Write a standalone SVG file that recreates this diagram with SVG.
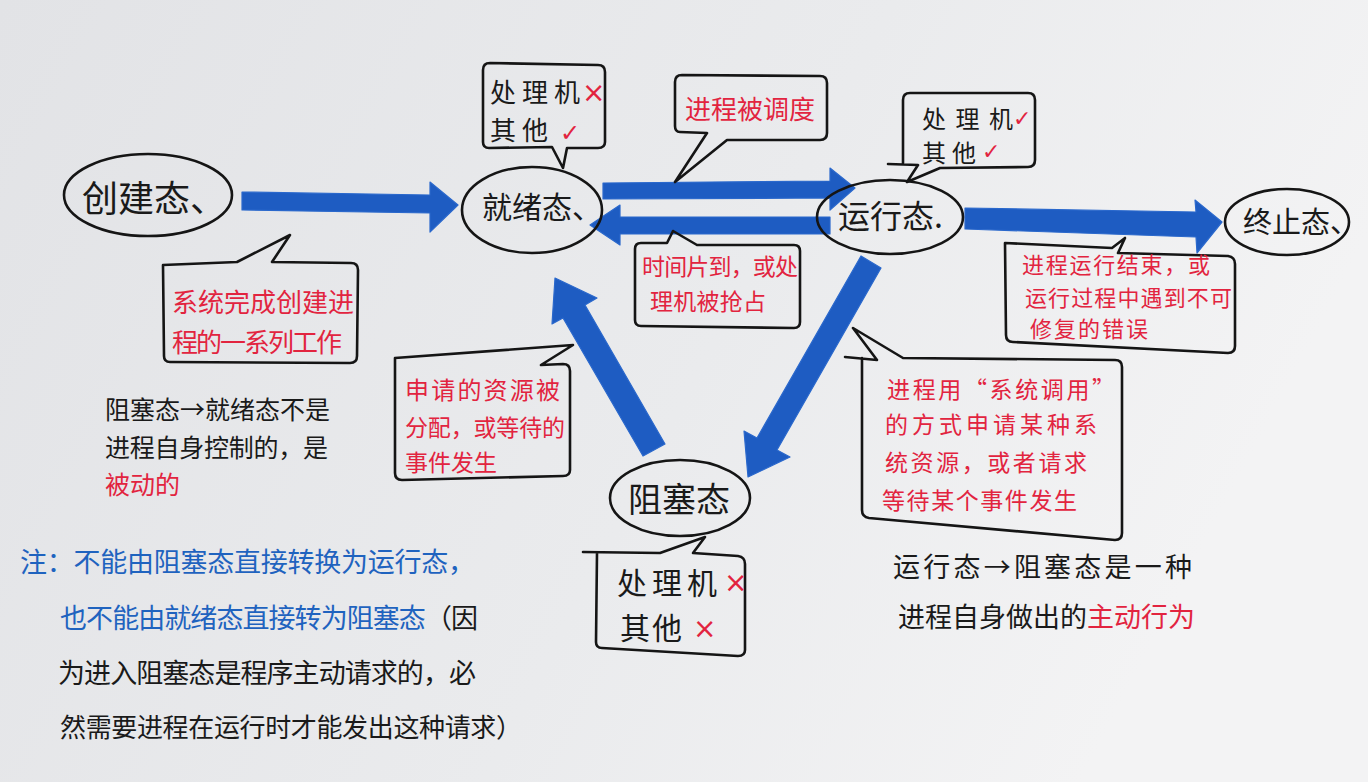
<svg xmlns="http://www.w3.org/2000/svg" width="1368" height="782" viewBox="0 0 1368 782">
<defs>
<linearGradient id="paper" x1="0" y1="0" x2="1" y2="0.3">
<stop offset="0" stop-color="#e2e3e6"/>
<stop offset="0.6" stop-color="#eaebed"/>
<stop offset="1" stop-color="#f3f3f4"/>
</linearGradient>
<style>
.node{fill:none;stroke:#151515;stroke-width:2.6}
.bubble{fill:none;stroke:#151515;stroke-width:2.6;stroke-linejoin:round;stroke-linecap:round}
.arrow{fill:#1e5cc2;stroke:#2a68cc;stroke-width:1.2;stroke-linejoin:round}
text{font-family:"Noto Sans CJK SC","Noto Sans CJK TC",sans-serif}
.k{fill:#1a1a1a}
.r{fill:#e2243f}
.b{fill:#1f63bf}
.mark{font-family:"DejaVu Sans",sans-serif;fill:#e2243f}
</style>
</defs>
<rect width="1368" height="782" fill="url(#paper)"/>

<g id="connectors">
<polygon class="arrow" points="242,192 430,195 430,182 458,205 430,232 430,213 242,210"/>
<polygon class="arrow" points="603,183 830,181 830,168 855,188 830,210 830,198 603,199"/>
<polygon class="arrow" points="830,217 620,217 620,205 590,225 620,245 620,234 830,234"/>
<polygon class="arrow" points="965,208 1196,212 1195,200 1222,222 1197,253 1196,237 965,229"/>
<polygon class="arrow" points="861,256 881,268 777,450 790,457 748,477 744,431 757,438"/>
<polygon class="arrow" points="643,456 665,444 585,305 597,298 555,278 552,324 563,318"/>
</g>

<g id="create">
<ellipse class="node" cx="148" cy="195" rx="84" ry="41"/>
<text class="k" x="82" y="212" font-size="36">创建态、</text>
</g>
<g id="create-note">
<path class="bubble" d="M163,265 L237,262 L290,235 L272,262 L351,263 Q358,263 358,270 L357,356 Q357,363 350,363 L170,362 Q164,362 164,356 Z"/>
<text class="r" x="172" y="312" font-size="26" textLength="182">系统完成创建进</text>
<text class="r" x="172" y="352" font-size="26" textLength="170">程的一系列工作</text>
</g>

<g id="ready">
<ellipse class="node" cx="532" cy="210" rx="70" ry="43"/>
<text class="k" x="482" y="218" font-size="30">就绪态、</text>
</g>
<g id="ready-note">
<path class="bubble" d="M490,63 L598,65 Q605,65 605,72 L605,142 Q605,148 598,148 L567,148 L563,168 L552,147 L489,148 Q483,148 483,142 L483,70 Q483,63 490,63 Z"/>
<text class="k" x="490" y="102" font-size="26" textLength="90">处理机</text>
<text class="mark" x="582" y="102" font-size="28">×</text>
<text class="k" x="490" y="140" font-size="26" textLength="58">其他</text>
<text class="mark" x="560" y="141" font-size="24">✓</text>
</g>

<g id="dispatch-note">
<path class="bubble" d="M682,75 L820,76 Q827,76 827,83 L827,133 Q827,140 820,140 L727,140 L675,182 L707,133 L680,132 Q675,132 675,126 L675,82 Q675,75 682,75 Z"/>
<text class="r" x="685" y="119" font-size="26" textLength="130">进程被调度</text>
</g>

<g id="timeout-note">
<path class="bubble" d="M641,243 L667,243 L673,231 L697,245 L794,245 Q800,245 800,251 L800,322 Q800,328 794,328 L641,326 Q635,326 635,320 L635,249 Q635,243 641,243 Z"/>
<text class="r" x="642" y="275" font-size="23" textLength="156">时间片到，或处</text>
<text class="r" x="650" y="310" font-size="23" textLength="116">理机被抢占</text>
</g>

<g id="running">
<ellipse class="node" cx="890" cy="217" rx="73" ry="37"/>
<text class="k" x="838" y="228" font-size="32">运行态.</text>
</g>
<g id="running-note">
<path class="bubble" d="M910,93 L1028,93 Q1035,93 1035,100 L1035,160 Q1035,167 1028,167 L940,168 L907,182 L918,165 L888,164 M903,163 L903,100 Q903,93 910,93"/>
<text class="k" x="922" y="128" font-size="24" textLength="91">处理机</text>
<text class="mark" x="1013" y="126" font-size="22">✓</text>
<text class="k" x="922" y="162" font-size="24" textLength="54">其他</text>
<text class="mark" x="982" y="159" font-size="22">✓</text>
</g>

<g id="terminated">
<ellipse class="node" cx="1287" cy="222" rx="62" ry="33"/>
<text class="k" x="1243" y="233" font-size="29">终止态、</text>
</g>
<g id="exit-note">
<path class="bubble" d="M1005,243 L1112,248 L1125,238 L1118,253 L1228,256 Q1235,257 1235,264 L1235,346 Q1235,353 1228,353 L1013,342 Q1006,342 1006,335 Z"/>
<text class="r" x="1022" y="273" font-size="22" textLength="188">进程运行结束，或</text>
<text class="r" x="1025" y="306" font-size="22" textLength="207">运行过程中遇到不可</text>
<text class="r" x="1030" y="337" font-size="22" textLength="118">修复的错误</text>
</g>

<g id="blocked">
<ellipse class="node" cx="680" cy="498" rx="70" ry="38"/>
<text class="k" x="628" y="512" font-size="34">阻塞态</text>
</g>
<g id="blocked-note">
<path class="bubble" d="M583,552 L660,553 L705,537 L693,553 L738,556 Q745,557 745,564 L745,650 Q745,656 738,656 L602,648 Q596,648 596,642 L597,553"/>
<text class="k" x="617" y="594" font-size="30" textLength="100">处理机</text>
<text class="mark" x="724" y="592" font-size="28">×</text>
<text class="k" x="620" y="639" font-size="30" textLength="62">其他</text>
<text class="mark" x="693" y="638" font-size="28">×</text>
</g>

<g id="wakeup-note">
<path class="bubble" d="M395,358 L573,345 L541,365 L563,364 Q570,364 570,371 L570,470 Q570,476 563,476 L402,480 Q395,480 395,473 Z"/>
<text class="r" x="405" y="399" font-size="24" textLength="155">申请的资源被</text>
<text class="r" x="405" y="436" font-size="23" textLength="160">分配，或等待的</text>
<text class="r" x="405" y="471" font-size="23" textLength="92">事件发生</text>
</g>

<g id="block-note">
<path class="bubble" d="M845,357 L877,360 L853,328 L903,358 L1115,360 Q1122,360 1122,367 L1122,533 Q1122,540 1115,540 L869,518 Q862,517 862,510 L862,358"/>
<text class="r" x="887" y="398" font-size="23" textLength="228">进程用“系统调用”</text>
<text class="r" x="885" y="433" font-size="23" textLength="212">的方式申请某种系</text>
<text class="r" x="885" y="471" font-size="23" textLength="202">统资源，或者请求</text>
<text class="r" x="882" y="509" font-size="23" textLength="195">等待某个事件发生</text>
</g>

<g id="run-to-block-text">
<text class="k" x="893" y="577" font-size="27" textLength="299">运行态→阻塞态是一种</text>
<text class="k" x="898" y="627" font-size="27" textLength="297">进程自身做出的<tspan class="r">主动行为</tspan></text>
</g>

<g id="block-to-ready-text">
<text class="k" x="105" y="419" font-size="25" textLength="225">阻塞态→就绪态不是</text>
<text class="k" x="105" y="457" font-size="25" textLength="223">进程自身控制的，是</text>
<text class="r" x="105" y="494" font-size="25">被动的</text>
</g>

<g id="footnote">
<text class="b" x="20" y="572" font-size="27" textLength="455">注：不能由阻塞态直接转换为运行态，</text>
<text x="60" y="628" font-size="27" textLength="418"><tspan class="b">也不能由就绪态直接转为阻塞态</tspan><tspan class="k">（因</tspan></text>
<text class="k" x="58" y="683" font-size="27" textLength="418">为进入阻塞态是程序主动请求的，必</text>
<text class="k" x="60" y="737" font-size="26" textLength="462">然需要进程在运行时才能发出这种请求）</text>
</g>
</svg>
